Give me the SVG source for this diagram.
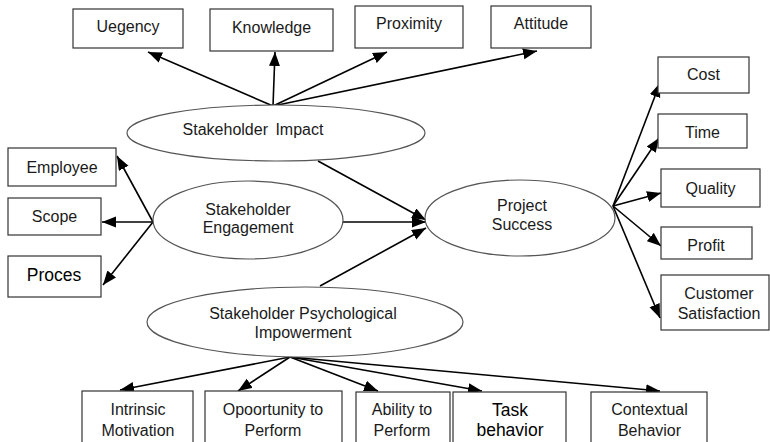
<svg xmlns="http://www.w3.org/2000/svg" width="770" height="442" viewBox="0 0 770 442">
<defs>
<marker id="ah" markerUnits="userSpaceOnUse" markerWidth="15" markerHeight="12" refX="14" refY="5.5" orient="auto">
<path d="M0,0 L14,5.5 L0,11 z" fill="#000"/>
</marker>
<style>
.box{fill:#fff;stroke:#333;stroke-width:1.2}
.ell{fill:#fff;stroke:#555;stroke-width:1.2}
.t{font-family:"Liberation Sans",Arial,sans-serif;font-size:16px;fill:#1a1a1a;text-anchor:middle}
.tb{font-family:"Liberation Sans",Arial,sans-serif;font-size:17.5px;fill:#000;text-anchor:middle}
.c{stroke:#000;stroke-width:1.6;fill:none}
.ca{stroke:#000;stroke-width:1.6;fill:none;marker-end:url(#ah)}
</style>
</defs>
<rect width="770" height="442" fill="#fff"/>
<g id="connectors">
<line class="ca" x1="273" y1="106" x2="148" y2="52"/>
<line class="ca" x1="273" y1="106" x2="275" y2="52"/>
<line class="ca" x1="273" y1="106" x2="387" y2="52"/>
<line class="ca" x1="273" y1="106" x2="537" y2="51"/>
<line class="ca" x1="153" y1="222" x2="117" y2="156"/>
<line class="ca" x1="153" y1="222" x2="102" y2="222"/>
<line class="ca" x1="153" y1="222" x2="103" y2="285"/>
<line class="ca" x1="318" y1="161" x2="426" y2="220"/>
<line class="ca" x1="342" y1="222" x2="426" y2="222"/>
<line class="ca" x1="320" y1="286" x2="426" y2="228"/>
<line class="ca" x1="613" y1="206" x2="660" y2="83"/>
<line class="ca" x1="613" y1="206" x2="659" y2="138"/>
<line class="ca" x1="613" y1="206" x2="661" y2="193"/>
<line class="ca" x1="613" y1="206" x2="661" y2="246"/>
<line class="ca" x1="613" y1="206" x2="660" y2="318"/>
<line class="ca" x1="290" y1="357" x2="120" y2="390"/>
<line class="ca" x1="290" y1="357" x2="238" y2="391"/>
<line class="ca" x1="290" y1="357" x2="378" y2="391"/>
<line class="ca" x1="290" y1="357" x2="482" y2="391"/>
<line class="ca" x1="290" y1="357" x2="660" y2="391"/>
</g>
<g id="uegency"><rect class="box" x="73" y="9" width="110" height="39"/><text class="t" x="128" y="31.5">Uegency</text></g>
<g id="knowledge"><rect class="box" x="210" y="9" width="123" height="42"/><text class="t" x="271.5" y="32.5">Knowledge</text></g>
<g id="proximity"><rect class="box" x="355" y="6" width="108" height="42"/><text class="t" x="409" y="28.5">Proximity</text></g>
<g id="attitude"><rect class="box" x="491" y="6" width="100" height="42"/><text class="t" x="541" y="28.5">Attitude</text></g>
<g id="stakeholder-impact"><ellipse class="ell" cx="276" cy="133" rx="149" ry="28"/><text class="t" x="253" y="134.5" word-spacing="3">Stakeholder Impact</text></g>
<g id="employee"><rect class="box" x="8" y="148" width="108" height="38"/><text class="t" x="62" y="172.5">Employee</text></g>
<g id="scope"><rect class="box" x="8" y="198" width="93" height="37"/><text class="t" x="54.5" y="221.5">Scope</text></g>
<g id="proces"><rect class="box" x="8" y="256" width="93" height="41"/><text class="tb" x="54" y="281">Proces</text></g>
<g id="stakeholder-engagement"><ellipse class="ell" cx="248" cy="220" rx="95" ry="39"/><text class="t" x="248" y="214.5">Stakeholder</text><text class="t" x="248" y="232.5">Engagement</text></g>
<g id="project-success"><ellipse class="ell" cx="520" cy="218" rx="95" ry="38"/><text class="t" x="522" y="210.5">Project</text><text class="t" x="522" y="229.5">Success</text></g>
<g id="cost"><rect class="box" x="658" y="57" width="91" height="36"/><text class="t" x="703.5" y="79.5">Cost</text></g>
<g id="time"><rect class="box" x="658" y="114" width="89" height="34"/><text class="t" x="702.5" y="137.5">Time</text></g>
<g id="quality"><rect class="box" x="661" y="169" width="99" height="38"/><text class="t" x="710.5" y="193.5">Quality</text></g>
<g id="profit"><rect class="box" x="661" y="227" width="91" height="32"/><text class="t" x="706" y="250.5">Profit</text></g>
<g id="customer-satisfaction"><rect class="box" x="661" y="275" width="108" height="55"/><text class="t" x="719" y="298.5">Customer</text><text class="t" x="719" y="318.5">Satisfaction</text></g>
<g id="psychological-impowerment"><ellipse class="ell" cx="305" cy="322" rx="158" ry="35"/><text class="t" x="303" y="318.5">Stakeholder Psychological</text><text class="t" x="303" y="337.5">Impowerment</text></g>
<g id="intrinsic-motivation"><rect class="box" x="82" y="391" width="111" height="60"/><text class="t" x="138" y="414.5">Intrinsic</text><text class="t" x="138" y="435.5">Motivation</text></g>
<g id="opportunity"><rect class="box" x="205" y="391" width="137" height="60"/><text class="t" x="273" y="414.5">Opoortunity to</text><text class="t" x="273" y="435.5">Perform</text></g>
<g id="ability"><rect class="box" x="356" y="392" width="94" height="60"/><text class="t" x="402" y="414.5">Ability to</text><text class="t" x="402" y="435.5">Perform</text></g>
<g id="task-behavior"><rect class="box" x="453" y="392" width="113" height="60"/><text class="tb" x="510" y="416">Task</text><text class="tb" x="510" y="436">behavior</text></g>
<g id="contextual-behavior"><rect class="box" x="591" y="392" width="116" height="60"/><text class="t" x="649.5" y="414.5">Contextual</text><text class="t" x="649.5" y="435.5">Behavior</text></g>
</svg>
